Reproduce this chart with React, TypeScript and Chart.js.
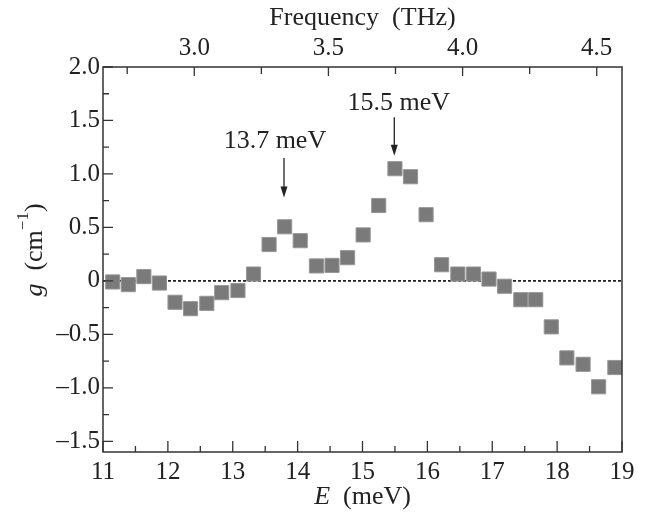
import React, { useEffect, useRef } from 'react';
import { Chart, registerables } from 'chart.js';

Chart.register(...registerables);

// ---- data ----
const energyMeV = [11.15, 11.39, 11.63, 11.87, 12.11, 12.35, 12.6, 12.83, 13.08, 13.32, 13.56, 13.8, 14.04, 14.29, 14.53, 14.77, 15.01, 15.25, 15.5, 15.74, 15.98, 16.22, 16.47, 16.71, 16.95, 17.19, 17.44, 17.67, 17.91, 18.15, 18.4, 18.64, 18.89];
const gain = [-0.01, -0.035, 0.04, -0.02, -0.2, -0.26, -0.21, -0.11, -0.09, 0.064, 0.34, 0.506, 0.376, 0.14, 0.145, 0.217, 0.43, 0.705, 1.049, 0.974, 0.619, 0.151, 0.064, 0.064, 0.017, -0.05, -0.176, -0.176, -0.43, -0.72, -0.78, -0.99, -0.81];

const xMajorTicks = [11, 12, 13, 14, 15, 16, 17, 18, 19];
const xMinorTicks = [11.5, 12.5, 13.5, 14.5, 15.5, 16.5, 17.5, 18.5];
const xTickLabels = ['11', '12', '13', '14', '15', '16', '17', '18', '19'];

const yMajorTicks = [-1.5, -1, -0.5, 0, 0.5, 1, 1.5, 2];
const yMinorTicks = [-1.25, -0.75, -0.25, 0.25, 0.75, 1.25, 1.75];
const yTickLabels = ['\u20131.5', '\u20131.0', '\u20130.5', '0', '0.5', '1.0', '1.5', '2.0'];

const freqMajorTicks = [3.0, 3.5, 4.0, 4.5];
const freqMinorTicks = [2.75, 3.25, 3.75, 4.25];
const freqTickLabels = ['3.0', '3.5', '4.0', '4.5'];

const annotationLabels = ['13.7 meV', '15.5 meV'];
const annotationTextE = [13.65, 15.56];
const annotationTextG = [1.31, 1.66];
const arrowE = [13.79, 15.49];
const arrowTopG = [1.15, 1.53];
const arrowTipG = [0.78, 1.17];

const MEV_TO_THZ = 0.241799;
const X_MIN = 11;
const X_MAX = 19;
const Y_MIN = -1.6;
const Y_MAX = 2.0;

const FONT = "'Liberation Serif', 'Times New Roman', serif";
const TEXT_COLOR = '#222';
const FRAME_COLOR = '#333';

function makeTicks(major: number[], minor: number[]) {
  return [...major.map(v => ({ value: v, major: true })), ...minor.map(v => ({ value: v, major: false }))]
    .sort((a, b) => a.value - b.value);
}

function labelFor(value: number, ticks: number[], labels: string[]) {
  const i = ticks.findIndex(t => Math.abs(t - value) < 1e-6);
  return i >= 0 ? labels[i] : '';
}

const framePlugin = {
  id: 'frameTicks',
  afterDatasetsDraw(chart: any) {
    const { ctx, chartArea: ca, scales } = chart;
    const xs = scales.x, ys = scales.y, fs = scales.x2;
    ctx.save();
    ctx.strokeStyle = FRAME_COLOR;
    ctx.lineWidth = 1.5;
    ctx.strokeRect(ca.left, ca.top, ca.right - ca.left, ca.bottom - ca.top);
    ctx.lineWidth = 1.3;
    ctx.beginPath();
    xMajorTicks.forEach(v => { const p = xs.getPixelForValue(v); ctx.moveTo(p, ca.bottom); ctx.lineTo(p, ca.bottom - 11); });
    xMinorTicks.forEach(v => { const p = xs.getPixelForValue(v); ctx.moveTo(p, ca.bottom); ctx.lineTo(p, ca.bottom - 6); });
    yMajorTicks.forEach(v => { const p = ys.getPixelForValue(v); ctx.moveTo(ca.left, p); ctx.lineTo(ca.left + 10, p); });
    yMinorTicks.forEach(v => { const p = ys.getPixelForValue(v); ctx.moveTo(ca.left, p); ctx.lineTo(ca.left + 6, p); });
    freqMajorTicks.forEach(v => { const p = fs.getPixelForValue(v); ctx.moveTo(p, ca.top); ctx.lineTo(p, ca.top + 9); });
    freqMinorTicks.forEach(v => { const p = fs.getPixelForValue(v); ctx.moveTo(p, ca.top); ctx.lineTo(p, ca.top + 7); });
    ctx.stroke();

    // annotations
    ctx.fillStyle = TEXT_COLOR;
    ctx.strokeStyle = TEXT_COLOR;
    ctx.font = `26px ${FONT}`;
    ctx.textAlign = 'center';
    ctx.textBaseline = 'middle';
    annotationLabels.forEach((t, i) => {
      ctx.fillText(t, xs.getPixelForValue(annotationTextE[i]), ys.getPixelForValue(annotationTextG[i]));
      const ax = xs.getPixelForValue(arrowE[i]);
      const y0 = ys.getPixelForValue(arrowTopG[i]);
      const y1 = ys.getPixelForValue(arrowTipG[i]);
      ctx.lineWidth = 1.3;
      ctx.beginPath();
      ctx.moveTo(ax, y0);
      ctx.lineTo(ax, y1 - 8);
      ctx.stroke();
      ctx.beginPath();
      ctx.moveTo(ax, y1);
      ctx.lineTo(ax - 3.5, y1 - 11);
      ctx.lineTo(ax + 3.5, y1 - 11);
      ctx.closePath();
      ctx.fill();
    });
    ctx.restore();
  },
  afterDraw(chart: any) {
    const { ctx, chartArea: ca } = chart;
    const cx = (ca.left + ca.right) / 2;
    ctx.save();
    ctx.fillStyle = TEXT_COLOR;
    ctx.textBaseline = 'middle';
    ctx.textAlign = 'left';

    const drawParts = (parts: { t: string; f: string; dy?: number }[], x: number, y: number) => {
      let total = 0;
      parts.forEach(p => { ctx.font = p.f; total += ctx.measureText(p.t).width; });
      let px = x - total / 2;
      parts.forEach(p => {
        ctx.font = p.f;
        ctx.fillText(p.t, px, y + (p.dy || 0));
        px += ctx.measureText(p.t).width;
      });
    };

    // top title
    drawParts([{ t: 'Frequency  (THz)', f: `26px ${FONT}` }], cx, 18);
    // bottom title
    drawParts([{ t: 'E', f: `italic 26px ${FONT}` }, { t: '  (meV)', f: `26px ${FONT}` }], cx, 497);
    // left title (rotated)
    ctx.translate(35, 250);
    ctx.rotate(-Math.PI / 2);
    drawParts([
      { t: 'g', f: `italic 26px ${FONT}` },
      { t: '  (cm', f: `26px ${FONT}` },
      { t: '\u22121', f: `17px ${FONT}`, dy: -11 },
      { t: ')', f: `26px ${FONT}` },
    ], 0, 0);
    ctx.restore();
  },
};

export default function App() {
  const ref = useRef<HTMLCanvasElement | null>(null);

  useEffect(() => {
    if (!ref.current) return;
    const chart = new Chart(ref.current, {
      type: 'scatter',
      data: {
        datasets: [
          {
            label: 'g',
            data: energyMeV.map((e, i) => ({ x: e, y: gain[i] })),
            pointStyle: 'rect',
            pointRadius: 10,
            pointHoverRadius: 10,
            backgroundColor: 'rgb(122,122,122)',
            borderColor: 'rgb(150,150,150)',
            borderWidth: 1,
            showLine: false,
            order: 1,
          },
          {
            type: 'line',
            label: 'zero',
            data: [{ x: X_MIN, y: 0 }, { x: X_MAX, y: 0 }],
            borderColor: '#222',
            borderWidth: 1.6,
            borderDash: [3, 2],
            pointRadius: 0,
            showLine: true,
            order: 2,
          } as any,
        ],
      },
      options: {
        responsive: false,
        animation: false,
        layout: { padding: { left: 0, right: 24, top: 0, bottom: 0 } },
        plugins: {
          legend: { display: false },
          tooltip: { enabled: false },
        },
        scales: {
          x: {
            type: 'linear',
            position: 'bottom',
            min: X_MIN,
            max: X_MAX,
            grid: { display: false, drawTicks: false },
            border: { display: false },
            afterBuildTicks: (s: any) => { s.ticks = makeTicks(xMajorTicks, xMinorTicks); },
            afterFit: (s: any) => { s.height = 66; },
            ticks: {
              autoSkip: false,
              maxRotation: 0,
              padding: 5,
              color: TEXT_COLOR,
              font: { family: FONT, size: 25 },
              callback: (v: any) => labelFor(Number(v), xMajorTicks, xTickLabels),
            },
          },
          x2: {
            type: 'linear',
            position: 'top',
            display: true,
            min: X_MIN * MEV_TO_THZ,
            max: X_MAX * MEV_TO_THZ,
            grid: { display: false, drawTicks: false },
            border: { display: false },
            afterBuildTicks: (s: any) => { s.ticks = makeTicks(freqMajorTicks, freqMinorTicks); },
            afterFit: (s: any) => { s.height = 67; },
            ticks: {
              autoSkip: false,
              maxRotation: 0,
              padding: 4,
              color: TEXT_COLOR,
              font: { family: FONT, size: 25 },
              callback: (v: any) => labelFor(Number(v), freqMajorTicks, freqTickLabels),
            },
          },
          y: {
            type: 'linear',
            position: 'left',
            min: Y_MIN,
            max: Y_MAX,
            grid: { display: false, drawTicks: false },
            border: { display: false },
            afterBuildTicks: (s: any) => { s.ticks = makeTicks(yMajorTicks, yMinorTicks); },
            afterFit: (s: any) => { s.width = 103; },
            ticks: {
              autoSkip: false,
              padding: 3,
              color: TEXT_COLOR,
              font: { family: FONT, size: 25 },
              callback: (v: any) => labelFor(Number(v), yMajorTicks, yTickLabels),
            },
          },
        },
      } as any,
      plugins: [framePlugin],
    });
    return () => chart.destroy();
  }, []);

  return (
    <div style={{ position: 'fixed', left: 0, top: 0, width: 646, height: 518, background: '#fff' }}>
      <canvas ref={ref} width={646} height={518} style={{ width: 646, height: 518 }} />
    </div>
  );
}
